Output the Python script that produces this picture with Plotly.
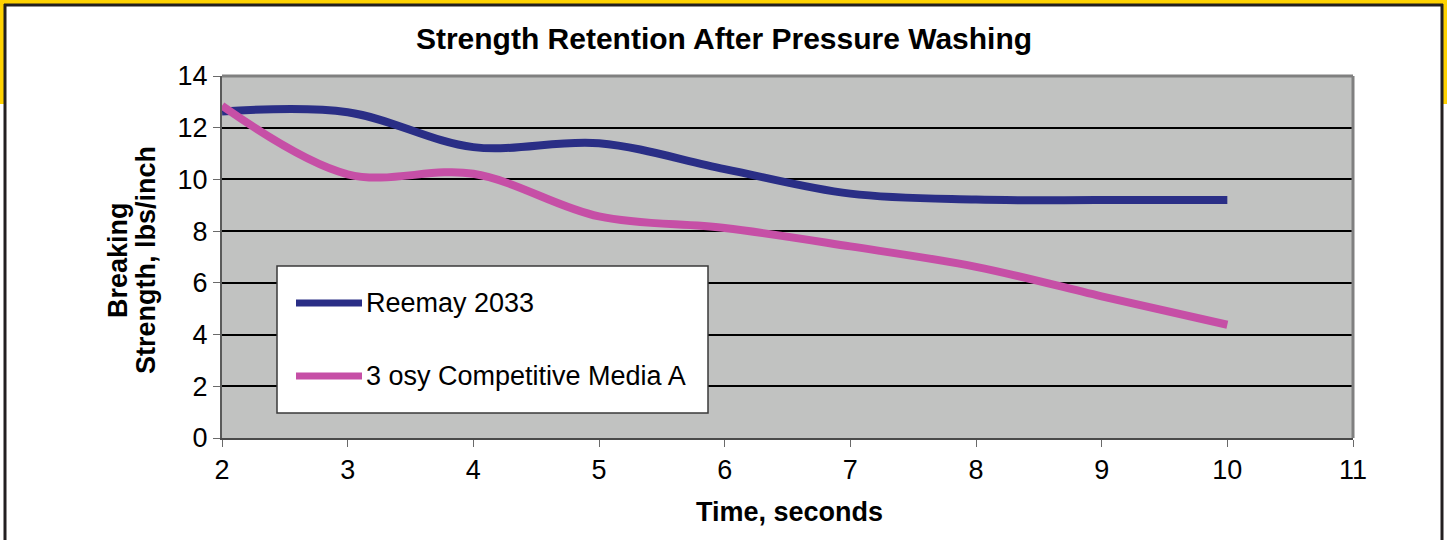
import plotly.graph_objects as go

# ---- data ----
time_s = [2, 3, 4, 5, 6, 7, 8, 9, 10]
reemay_2033 = [12.63, 12.6, 11.25, 11.4, 10.4, 9.45, 9.22, 9.2, 9.2]
competitive_a = [12.85, 10.2, 10.22, 8.57, 8.12, 7.41, 6.62, 5.48, 4.38]
series_names = ["Reemay 2033", "3 osy Competitive Media A"]
x_ticks = [2, 3, 4, 5, 6, 7, 8, 9, 10, 11]
y_ticks = [0, 2, 4, 6, 8, 10, 12, 14]
title_text = "Strength Retention After Pressure Washing"
x_title = "Time, seconds"
y_title_lines = ["Breaking", "Strength, lbs/inch"]

# ---- layout geometry (pixels) ----
W, H = 1447, 540
L, R, T, B = 222, 1353, 76, 438


def px(x):
    return (x - L) / (R - L)


def py(y):
    return (B - y) / (B - T)


FONT = "Liberation Sans, Arial, sans-serif"
BLUE = "#2A2E86"
PINK = "#C64FA6"

fig = go.Figure()
fig.add_trace(go.Scatter(x=time_s, y=reemay_2033, mode="lines", name=series_names[0],
                         line=dict(color=BLUE, width=8, shape="spline", smoothing=1.0)))
fig.add_trace(go.Scatter(x=time_s, y=competitive_a, mode="lines", name=series_names[1],
                         line=dict(color=PINK, width=8, shape="spline", smoothing=1.0)))

shapes = []
# yellow outer edges
for x0, y0, x1, y1 in [(0, 0, W, 4), (0, 0, 4, 104), (W - 4, 0, W, 104)]:
    shapes.append(dict(type="rect", xref="paper", yref="paper", x0=px(x0), x1=px(x1),
                       y0=py(y1), y1=py(y0), fillcolor="#FFD200", line=dict(width=0), layer="above"))
# dark frame
shapes.append(dict(type="line", xref="paper", yref="paper", x0=px(4), x1=px(W - 4), y0=py(5), y1=py(5),
                   line=dict(color="#231F20", width=3), layer="above"))
shapes.append(dict(type="line", xref="paper", yref="paper", x0=px(5), x1=px(5), y0=py(4), y1=py(H),
                   line=dict(color="#231F20", width=3), layer="above"))
shapes.append(dict(type="line", xref="paper", yref="paper", x0=px(W - 5), x1=px(W - 5), y0=py(4), y1=py(H),
                   line=dict(color="#231F20", width=3), layer="above"))
# plot area top/right border
shapes.append(dict(type="line", xref="paper", yref="paper", x0=0, x1=1, y0=1, y1=1,
                   line=dict(color="#808080", width=3), layer="above"))
shapes.append(dict(type="line", xref="paper", yref="paper", x0=1, x1=1, y0=0, y1=1,
                   line=dict(color="#808080", width=3), layer="above"))
# legend box
shapes.append(dict(type="rect", xref="paper", yref="paper", x0=px(277), x1=px(708), y0=py(413), y1=py(266),
                   fillcolor="white", line=dict(color="#3A3A3A", width=1.5), layer="above"))
legend_rows = [303, 376]
for name, col, yy in zip(series_names, [BLUE, PINK], legend_rows):
    shapes.append(dict(type="line", xref="paper", yref="paper", x0=px(296), x1=px(362), y0=py(yy), y1=py(yy),
                       line=dict(color=col, width=7), layer="above"))

annotations = []
for name, yy in zip(series_names, legend_rows):
    annotations.append(dict(text=name, xref="paper", yref="paper", x=px(364), y=py(yy), xanchor="left",
                            yanchor="middle", showarrow=False, font=dict(family=FONT, size=27, color="black")))
# axis titles
annotations.append(dict(text="<b>" + x_title + "</b>", xref="paper", yref="paper", x=px(789), y=py(512),
                        xanchor="center", yanchor="middle", showarrow=False,
                        font=dict(family=FONT, size=27, color="black")))
for line_txt, xx in zip(y_title_lines, [118, 146]):
    annotations.append(dict(text="<b>" + line_txt + "</b>", xref="paper", yref="paper", x=px(xx), y=py(260),
                            xanchor="center", yanchor="middle", textangle=-90, showarrow=False,
                            font=dict(family=FONT, size=27, color="black")))

fig.update_layout(
    width=W, height=H, autosize=False,
    margin=dict(l=L, r=W - R, t=T, b=H - B, pad=0),
    paper_bgcolor="white", plot_bgcolor="#C1C2C1",
    showlegend=False,
    title=dict(text="<b>" + title_text + "</b>", x=724 / W, xref="container", xanchor="center",
               y=1 - 38 / H, yref="container", yanchor="middle",
               font=dict(family=FONT, size=30, color="black")),
    shapes=shapes, annotations=annotations,
    xaxis=dict(range=[2, 11], tickvals=x_ticks, showgrid=False, zeroline=False,
               showline=True, linecolor="#4A4A4A", linewidth=2, ticks="outside", ticklen=7,
               tickcolor="#6A6A6A", tickwidth=1, tickfont=dict(family=FONT, size=27, color="black")),
    yaxis=dict(range=[0, 14], tickvals=y_ticks, showgrid=True, gridcolor="black", gridwidth=2,
               zeroline=False, showline=True, linecolor="#5A5A5A", linewidth=2, ticks="outside",
               ticklen=7, tickcolor="#6A6A6A", tickwidth=1,
               tickfont=dict(family=FONT, size=27, color="black")),
)

fig.write_html("out.html", config={"displayModeBar": False},
               post_script="document.body.style.margin='0px';")
